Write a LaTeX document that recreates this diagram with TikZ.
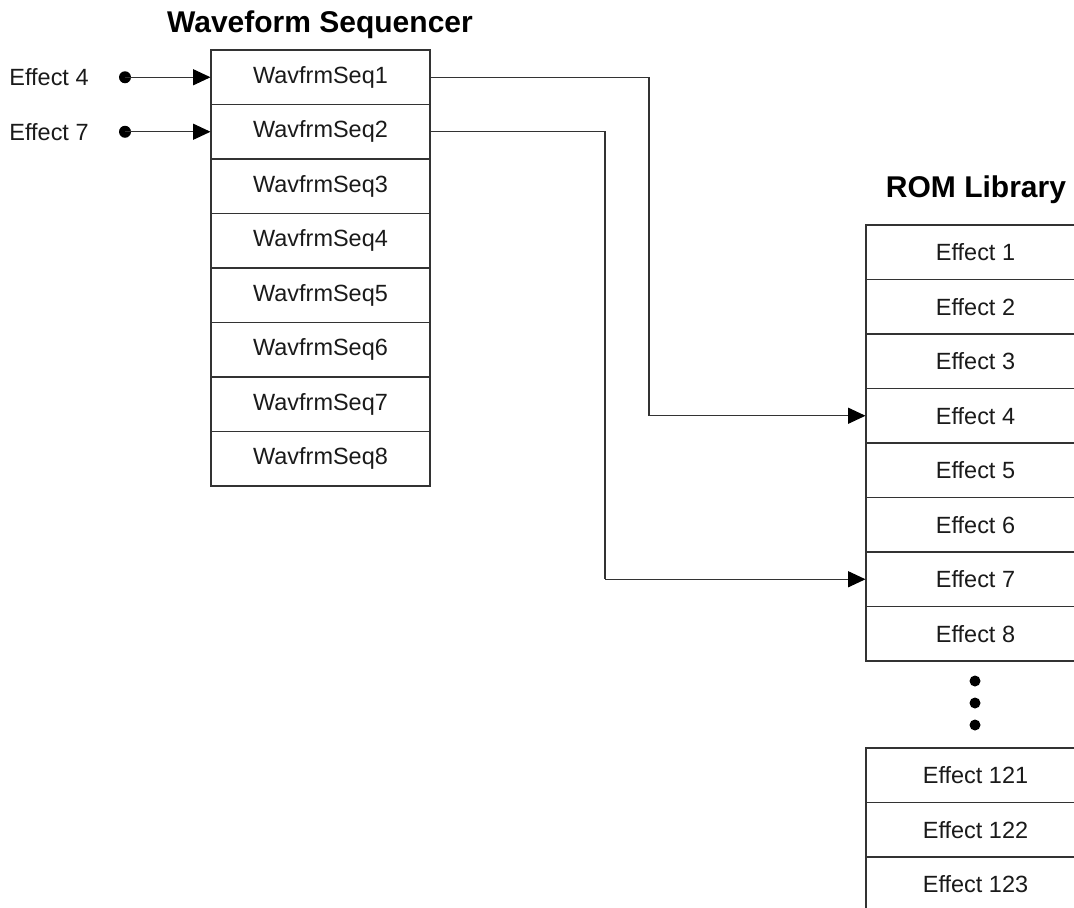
\documentclass[tikz,border=0pt]{standalone}
\usepackage{fontspec}
\setmainfont{Liberation Sans}
\usetikzlibrary{arrows.meta,calc}
\definecolor{linec}{HTML}{333333}
\definecolor{textc}{HTML}{1A1A1A}
\tikzset{
  cell/.style={draw=linec, line width=0.8pt, fill=white, minimum width=164.25pt, minimum height=40.875pt, inner sep=0pt, text=textc, font=\fontsize{17.6pt}{20pt}\selectfont},
  titletext/.style={font=\fontsize{22.5pt}{26pt}\selectfont\bfseries, text=black, anchor=base, inner sep=0pt},
  lbl/.style={font=\fontsize{17.6pt}{20pt}\selectfont, text=textc, inner sep=0pt},
  conn/.style={draw=linec, line width=0.8pt},
  arr/.style={conn, -{Triangle[length=13pt, width=12pt, color=black]}},
  dotc/.style={fill=black}
}
\begin{document}
\begin{tikzpicture}[x=0.75pt, y=-0.75pt]
\useasboundingbox (0,0) rectangle (1074,907);
\clip (0,0) rectangle (1074,907);
\fill[white] (0,0) rectangle (1074,907);

% titles
\node[titletext] (t1) at (320,32) {Waveform Sequencer};
\node[titletext] (t2) at (976,197) {ROM Library};

% waveform sequencer cells
\foreach \i in {1,...,8} {
  \node[cell] (s\i) at (320.5, {50+54.5*(\i-0.5)}) {WavfrmSeq\i};
}

% ROM library cells
\foreach \i in {1,...,8} {
  \node[cell] (r\i) at (975.5, {225+54.5*(\i-0.5)}) {Effect \i};
}
\node[cell] (r121) at (975.5, 775.25) {Effect 121};
\node[cell] (r122) at (975.5, 829.75) {Effect 122};
\node[cell] (r123) at (975.5, 884.25) {Effect 123};

% ellipsis dots
\fill[dotc] (975,681) circle (5.5);
\fill[dotc] (975,703) circle (5.5);
\fill[dotc] (975,725) circle (5.5);

% inputs
\node[lbl] (l4) at (49,77.25) {Effect 4};
\node[lbl] (l7) at (49,131.75) {Effect 7};
\coordinate (in4) at (125,77.25);
\coordinate (in7) at (125,131.75);
\fill[dotc] (in4) circle (6);
\fill[dotc] (in7) circle (6);
\draw[arr] (in4) -- (s1.west);
\draw[arr] (in7) -- (s2.west);

% connectors
\coordinate (k1) at (649,0);
\coordinate (k2) at (605,0);
\draw[conn] (s1.east) -| (k1 |- r4.west);
\draw[arr] (k1 |- r4.west) -- (r4.west);
\draw[conn] (s2.east) -| (k2 |- r7.west);
\draw[arr] (k2 |- r7.west) -- (r7.west);
\end{tikzpicture}
\end{document}
